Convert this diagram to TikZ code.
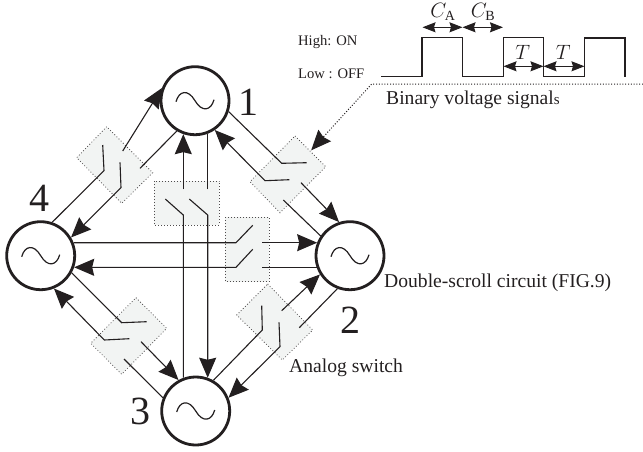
\documentclass[tikz,border=0pt]{standalone}
\usepackage{fontspec}
\setmainfont{Liberation Serif}
\usetikzlibrary{arrows.meta,calc}
\definecolor{swfill}{HTML}{F2F4F3}
\definecolor{ink}{HTML}{231F20}
\tikzset{
  x=1pt,y=-1pt,
  osc/.style={circle,draw=ink,line width=2.8pt,minimum size=68pt,inner sep=0pt,fill=white},
  swbox/.style={draw=ink!80,fill=swfill,line width=.8pt,dash pattern=on .8pt off 2.2pt},
  wire/.style={draw=ink,line width=1.1pt},
  arw/.style={wire,-{Stealth[length=20pt,width=17pt,inset=2pt]}},
  dbl/.style={draw=ink,line width=1pt,{Stealth[length=13pt,width=10pt,inset=1.5pt]}-{Stealth[length=13pt,width=10pt,inset=1.5pt]}},
  lbl/.style={inner sep=0pt,text=ink,font=\fontsize{19.6}{20}\selectfont},
  big/.style={inner sep=0pt,text=ink,font=\fontsize{40}{40}\selectfont},
  small/.style={inner sep=0pt,text=ink,font=\fontsize{14.6}{15}\selectfont},
  mth/.style={inner sep=0pt,text=ink,font=\fontsize{20}{20}\selectfont},
  sine/.style={draw=ink,line width=1.2pt}
}
\newcommand{\sinewave}[2]{%
  \draw[sine] (#1-19,#2+1) .. controls (#1-16,#2-10) and (#1-7,#2-12) .. (#1,#2)
     .. controls (#1+7,#2+12) and (#1+16,#2+10) .. (#1+19,#2-1);}
\begin{document}
\begin{tikzpicture}
\useasboundingbox (0,0) rectangle (643,451);
% switch boxes
\path[swbox] (106.7,126.7) -- (76.7,157.7) -- (121.7,203.3) -- (152.7,172.7) -- cycle;
\path[swbox] (295,136) -- (325.7,166.7) -- (280,212.7) -- (250,181.7) -- cycle;
\path[swbox] (136,297.7) -- (166.7,328.3) -- (121.7,374.3) -- (90.7,343.3) -- cycle;
\path[swbox] (267.7,284) -- (312.7,330) -- (282.3,360) -- (236.7,315) -- cycle;
\path[swbox] (154.3,181) rectangle (219.3,225);
\path[swbox] (225.3,217.3) rectangle (269.3,281.7);
% oscillators
\node[osc] (c1) at (195,100.7) {};
\node[osc] (c2) at (350,255.7) {};
\node[osc] (c3) at (195.7,411) {};
\node[osc] (c4) at (40.7,255.7) {};
\sinewave{195}{100.7}
\sinewave{350}{255.7}
\sinewave{195.7}{411}
\sinewave{40.7}{255.7}
% named points
\coordinate (tlA) at (104,170.7);
\coordinate (tlAb) at (102.7,145);
\coordinate (tlAo) at (122.7,151);
\coordinate (tlB) at (121,187.7);
\coordinate (tlBb) at (120,162.3);
\coordinate (tlBo) at (140,168.3);
\coordinate (trA) at (281.7,163.3);
\coordinate (trAb) at (306.7,162.7);
\coordinate (trAo) at (301,182.7);
\coordinate (trB) at (265,180.7);
\coordinate (trBb) at (289.3,179.7);
\coordinate (trBo) at (283.3,200);
\coordinate (blA) at (121.7,322.7);
\coordinate (blAb) at (146.7,321.7);
\coordinate (blAo) at (141,341.7);
\coordinate (blB) at (104.3,340);
\coordinate (blBb) at (129.3,338.7);
\coordinate (blBo) at (124,359);
\coordinate (brA) at (262.3,330);
\coordinate (brAb) at (261.7,305.7);
\coordinate (brAo) at (281.7,310.7);
\coordinate (brB) at (280,346.7);
\coordinate (brBb) at (279,322.3);
\coordinate (brBo) at (299.3,327.7);
% top-left pair
\draw[wire] (c4.71) -- (tlA) -- (tlAb);
\draw[arw] (tlAo) -- (c1.159);
\draw[wire] (c1.239) -- (tlBo);
\draw[arw] (tlBb) -- (tlB) -- (c4.31);
% top-right pair
\draw[wire] (c1.342) -- (trA) -- (trAb);
\draw[arw] (trAo) -- (c2.108);
\draw[wire] (c2.146) -- (trBo);
\draw[arw] (trBb) -- (trB) -- (c1.304);
% bottom-left pair
\draw[wire] (c4.331) -- (blA) -- (blAb);
\draw[arw] (blAo) -- (c3.119);
\draw[wire] (c3.158) -- (blBo);
\draw[arw] (blBb) -- (blB) -- (c4.292);
% bottom-right pair
\draw[wire] (c3.60) -- (brA) -- (brAb);
\draw[arw] (brAo) -- (c2.212);
\draw[wire] (c2.249) -- (brBo);
\draw[arw] (brBb) -- (brB) -- (c3.22);
% vertical pair
\coordinate (vAo) at (183.3,189.3);
\coordinate (vA) at (183.3,215);
\coordinate (vAb) at (165.3,199);
\coordinate (vBo) at (207.7,189.3);
\coordinate (vB) at (207.7,215);
\coordinate (vBb) at (189.3,199);
\draw[arw] (vAo) -- (vAo |- c1.251);
\draw[wire] (vAb) -- (vA) -- (vA |- c3.110);
\draw[wire] (vBo) -- (vBo |- c1.291);
\draw[arw] (vBb) -- (vB) -- (vB |- c3.70);
% horizontal pair
\coordinate (hA) at (236,242.7);
\coordinate (hAb) at (252.7,225.3);
\coordinate (hAo) at (262.3,242.7);
\coordinate (hB) at (236,267.3);
\coordinate (hBb) at (252.7,249.3);
\coordinate (hBo) at (262.3,267.3);
\draw[wire] (hA -| c4.22) -- (hA) -- (hAb);
\draw[arw] (hAo) -- (hAo -| c2.158);
\draw[wire] (hBo -| c2.200) -- (hBo);
\draw[arw] (hBb) -- (hB) -- (hB -| c4.341);
% waveform
\draw[draw=ink,line width=1.3pt] (381,76.3) -- (422,76.3) -- (422,37.3) -- (462.5,37.3) -- (462.5,76.3) -- (503.3,76.3) -- (503.3,37.8) -- (543.5,37.8) -- (543.5,76.8) -- (584.7,76.8) -- (584.7,38) -- (625,38) -- (625,77);
\coordinate (ca) at (422.5,27.3);
\coordinate (cb) at (462.5,27.3);
\coordinate (cc) at (503,27.3);
\draw[dbl] (ca) -- (cb);
\draw[dbl] (cb) -- (cc);
\coordinate (ta) at (503.5,66.3);
\coordinate (tb) at (543.5,66.3);
\coordinate (tc) at (584.5,66.3);
\draw[dbl] (ta) -- (tb);
\draw[dbl] (tb) -- (tc);
% pointer
\node[inner sep=0pt,minimum size=0pt] (ptr) at (311,150.5) {};
\coordinate (ptrR) at (643,84);
\coordinate (ptrM) at (371.7,84);
\draw[draw=ink,line width=1pt,dash pattern=on 1pt off 1.8pt] (ptrR) -- (ptrM) -- (ptr);
\draw[draw=ink,line width=1pt,-{Stealth[length=20pt,width=17pt,inset=2pt]}] ($(ptr)!19pt!(ptrM)$) -- (ptr);
% labels
\node[big] (n1) at (248,102) {1};
\node[big] (n2) at (350,320) {2};
\node[big] (n3) at (140,411) {3};
\node[big] (n4) at (40,198) {4};
\node[small,anchor=west] (hi) at (298,42) {High: ON};
\node[small,anchor=west] (lo) at (298,74) {Low : OFF};
\node[lbl,anchor=west] (bv) at (386,99.5) {Binary voltage signal{\fontsize{15}{15}\selectfont s}};
\node[lbl,anchor=west] (ds) at (384,283) {Double-scroll circuit (FIG.9)};
\node[lbl,anchor=west] (as) at (289,368) {Analog switch};
\node[mth] (la) at (443,12) {$C_{\mathrm{A}}$};
\node[mth] (lb) at (483,12) {$C_{\mathrm{B}}$};
\node[mth] (t1) at (522.7,52) {$T$};
\node[mth] (t2) at (563.3,52) {$T$};
\end{tikzpicture}
\end{document}
